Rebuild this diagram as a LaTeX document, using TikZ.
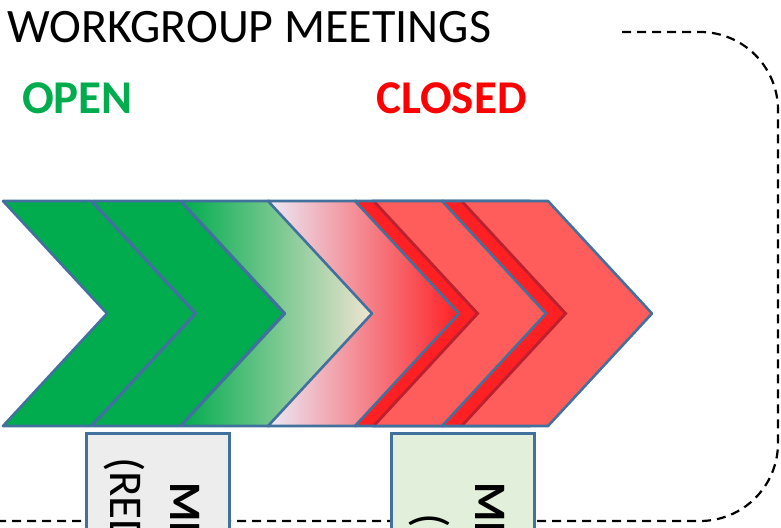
\documentclass[tikz,border=0pt]{standalone}
\usepackage{fontspec}
\setmainfont{Carlito}
\usetikzlibrary{positioning}

\definecolor{chevblue}{RGB}{65,113,156}
\definecolor{opengreen}{RGB}{0,172,78}
\definecolor{closedred}{RGB}{255,0,0}
\definecolor{salmon}{RGB}{255,92,92}
\definecolor{brightred}{RGB}{255,32,36}
\definecolor{shadowred}{RGB}{190,32,45}

% one arrow of the band, x0 = left corner
\newcommand{\chevpath}[1]{(#1,201) -- ++(88,0) -- ++(104,112.5) -- ++(-104,112.5) -- ++(-88,0) -- ++(104,-112.5) -- cycle}
\newcommand{\chevrim}[1]{(#1,201) -- ++(88,0) -- ++(104,112.5) -- ++(-104,112.5) -- ++(-88,0)}
\newcommand{\chevnotch}[1]{(#1,201) -- ++(104,112.5) -- ++(-104,112.5)}

\begin{document}
\begin{tikzpicture}[x=1pt,y=-1pt,
    chev/.style={draw=chevblue,line width=2.6pt,line join=round},
    frame/.style={dash pattern=on 9pt off 6pt,line width=2.2pt},
    box/.style={draw=chevblue,line width=2.6pt,anchor=north west,inner sep=0pt,
      minimum width=143pt,minimum height=170pt},
    title/.style={font=\fontsize{48}{57}\selectfont,anchor=base west,inner sep=0pt},
    state/.style={font=\fontsize{47}{56}\selectfont\bfseries,anchor=base west,inner sep=0pt},
    vtop/.style={rotate=-90,anchor=base west,inner sep=0pt,font=\fontsize{45}{54}\selectfont\bfseries},
    vsub/.style={rotate=-90,anchor=base west,inner sep=0pt,font=\fontsize{47}{56}\selectfont}]
  \definecolor{beige}{RGB}{241,228,210}
  \definecolor{palegreen}{RGB}{178,204,160}
  \definecolor{lavender}{RGB}{234,234,247}
  \definecolor{pinkmid}{RGB}{238,190,198}
  \definecolor{boxgray}{RGB}{237,237,237}
  \definecolor{boxgreen}{RGB}{226,239,218}

  \path[use as bounding box] (0,0) rectangle (781,527);
  \clip (0,0) rectangle (781,527);

  % headings
  \node[title] (heading) at (7,42) {WORKGROUP MEETINGS};
  \node[state,text=opengreen] (open) at (22,113) {OPEN};
  \node[state,text=closedred] (closed) at (376,113) {CLOSED};

  % dashed frame
  \draw[frame,rounded corners=78pt] (622,32) -| (778,521) -- (-10,521);

  % band of arrows
  \fill[opengreen,chev] \chevpath{3};
  \fill[opengreen,chev] \chevpath{92};
  \shade[chev,left color=opengreen,middle color=palegreen,right color=beige] \chevpath{181};
  \shade[chev,left color=lavender,middle color=pinkmid,right color=brightred] \chevpath{268};
  \fill[brightred,chev] \chevpath{355};
  \fill[salmon] \chevpath{372};
  \draw[shadowred,line width=3pt] \chevnotch{373.5};
  \draw[chev] \chevrim{372};
  \fill[brightred,chev] \chevpath{442};
  \fill[salmon] \chevpath{460};
  \draw[shadowred,line width=3pt] \chevnotch{461.5};
  \draw[chev] \chevrim{460};

  % boxes under the band
  \node[box,fill=boxgray] (redbox) at (85,432) {};
  \node[vtop] (redtop) at (170,482) {MI};
  \node[vsub] (redsub) at (110,457) {(RED};
  \node[box,fill=boxgreen] (greenbox) at (390,432) {};
  \node[vtop] (greentop) at (475,482) {MI};
  \node[vsub] (greensub) at (415,513) {(};
\end{tikzpicture}
\end{document}
